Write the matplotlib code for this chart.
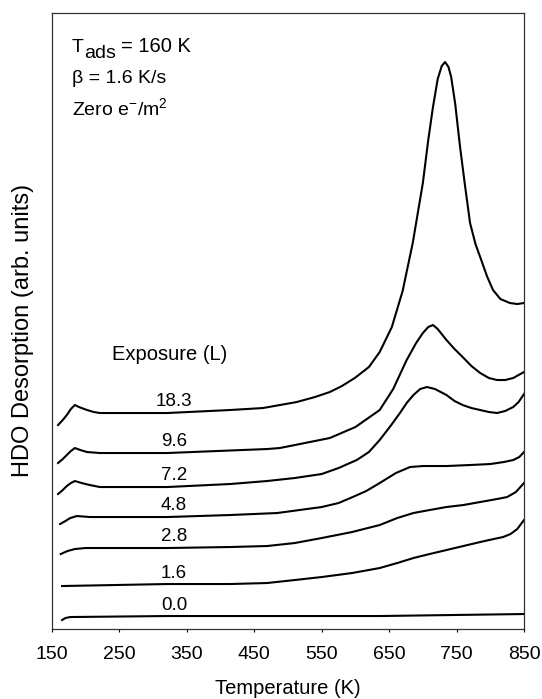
import numpy as np
import matplotlib
matplotlib.use('Agg')
import matplotlib.pyplot as plt

plt.rcParams['font.family'] = ['Liberation Sans', 'DejaVu Sans']
plt.rcParams['mathtext.fontset'] = 'custom'
plt.rcParams['mathtext.rm'] = 'Liberation Sans'
plt.rcParams['mathtext.it'] = 'Liberation Sans:italic'

# exposures (L) and their TPD traces (offset, arb. units)
exposures = ['18.3', '9.6', '7.2', '4.8', '2.8', '1.6', '0.0']

t_183 = [159, 166, 172, 178, 184, 190, 202, 212, 221, 321, 414, 463, 513, 540, 562, 580, 599,
         620, 636, 654, 670, 685, 700, 708, 715, 722, 728, 733, 738, 742, 748, 755, 762, 770,
         778, 785, 795, 804, 815, 829, 840, 850]
v_183 = [204, 209, 214, 220, 224, 222, 219, 217, 216, 216, 219, 221, 227, 232, 237, 243, 251,
         262, 277, 302, 338, 386, 446, 489, 522, 550, 563, 567, 562, 552, 525, 483, 446, 406,
         385, 372, 353, 339, 330, 326, 325, 326]

t_96 = [159, 166, 172, 178, 184, 192, 202, 221, 321, 469, 488, 562, 600, 636, 656, 676, 690,
        700, 708, 715, 722, 735, 747, 759, 772, 785, 798, 810, 822, 834, 850]
v_96 = [166, 170, 174, 178, 181, 179, 177, 176, 176, 180, 181, 191, 202, 219, 240, 269, 286,
        296, 302, 304, 300, 289, 280, 272, 263, 256, 251, 249, 249, 251, 257]

t_72 = [159, 166, 172, 178, 184, 194, 206, 221, 321, 414, 469, 510, 550, 575, 602, 620, 636,
        652, 666, 676, 686, 696, 706, 718, 735, 747, 759, 772, 785, 798, 810, 822, 834, 842, 850]
v_72 = [135, 139, 143, 146, 148, 146, 144, 142, 142, 145, 148, 151, 155, 161, 169, 177, 189,
        203, 216, 226, 234, 240, 242, 240, 234, 228, 224, 221, 219, 217, 216, 218, 222, 227, 235]

t_48 = [162, 170, 177, 187, 206, 321, 414, 484, 550, 575, 596, 616, 636, 660, 681, 700, 735,
        770, 800, 820, 834, 843, 850]
v_48 = [105, 108, 111, 113, 112, 112, 114, 116, 122, 126, 132, 138, 146, 156, 162, 163, 163,
        164, 165, 167, 169, 172, 177]

t_28 = [163, 173, 184, 200, 221, 321, 414, 469, 510, 550, 595, 636, 662, 686, 710, 735, 760,
        785, 810, 825, 838, 850]
v_28 = [75, 78, 80, 81, 81, 81, 82, 83, 86, 91, 97, 104, 111, 116, 119, 122, 124, 127, 130,
        132, 137, 146]

t_16 = [165, 321, 414, 469, 510, 550, 595, 636, 662, 686, 710, 735, 760, 785, 805, 819, 830,
        840, 850]
v_16 = [43, 45, 45, 46, 49, 52, 56, 61, 66, 71, 75, 79, 83, 87, 90, 92, 95, 100, 109]

t_00 = [165, 170, 177, 321, 414, 636, 850]
v_00 = [9, 11, 12, 13, 13, 13, 15]

temps = [t_183, t_96, t_72, t_48, t_28, t_16, t_00]
signals = [v_183, v_96, v_72, v_48, v_28, v_16, v_00]

xticks = [150, 250, 350, 450, 550, 650, 750, 850]

fig = plt.figure(figsize=(5.42, 6.99), dpi=100)
ax = fig.add_axes([0.0959, 0.1001, 0.8709, 0.8813])

for lab, t, v in zip(exposures, temps, signals):
    ax.plot(t, v, color='black', lw=1.5)
    ax.text(331, np.interp(331, t, v) + 11, lab, ha='center', va='center', fontsize=13.5)

ax.set_xlim(150, 850)
ax.set_ylim(0, 616)
ax.set_xticks(xticks)
ax.set_yticks([])
ax.tick_params(axis='x', direction='out', length=2.5, width=0.8, pad=10, labelsize=14)
for s in ax.spines.values():
    s.set_linewidth(0.9)
    s.set_color('#333333')

ax.set_xlabel('Temperature (K)', fontsize=14.5, labelpad=11)
fig.text(23 / 542, 1 - 330 / 699, 'HDO Desorption (arb. units)', rotation=90,
         ha='center', va='center', fontsize=17)

# T_ads line built from pieces so the subscript stays large
t1 = ax.text(0.042, 0.937, 'T', transform=ax.transAxes, fontsize=14, va='baseline')
t2 = ax.annotate('ads', xy=(1, 0), xycoords=t1, xytext=(0.3, -4.5), textcoords='offset points',
                 fontsize=14, va='bottom')
ax.annotate('= 160 K', xy=(1, 0), xycoords=t2, xytext=(3.5, 4.5), textcoords='offset points',
            fontsize=14.5, va='bottom')
ax.text(0.042, 0.886, 'β = 1.6 K/s', transform=ax.transAxes, fontsize=14, va='baseline')
ax.text(0.042, 0.834, r'Zero e$^{\mathrm{-}}$/m$^{2}$', transform=ax.transAxes, fontsize=14, va='baseline')
ax.text(0.25, 0.445, 'Exposure (L)', transform=ax.transAxes, fontsize=14.5, ha='center', va='center')

plt.savefig('out.png', dpi=100)
plt.close()
